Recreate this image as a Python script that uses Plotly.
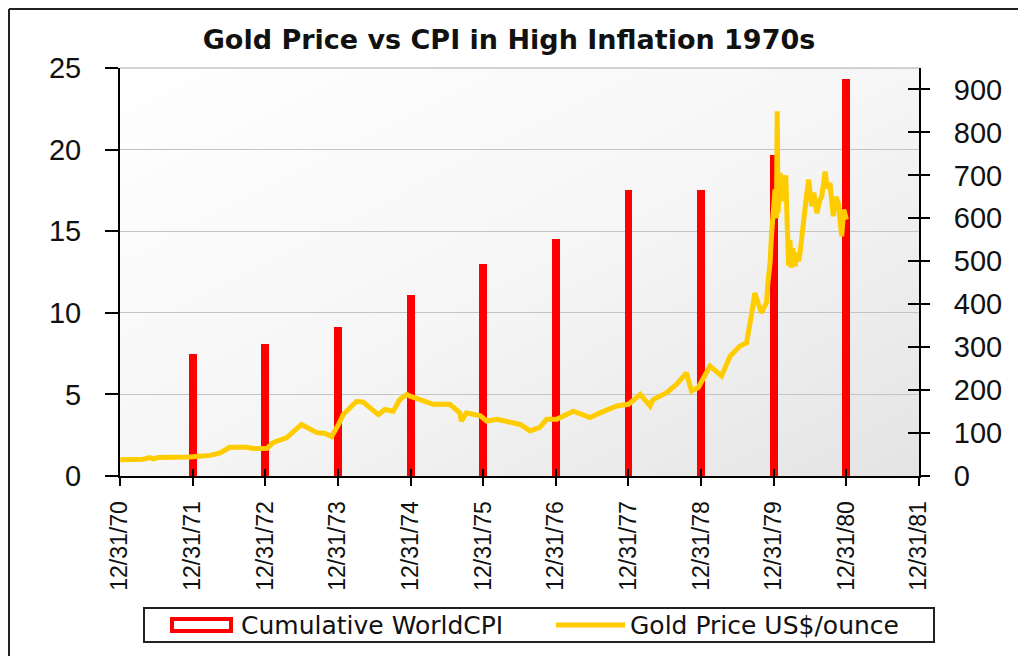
import base64
import plotly.graph_objects as go

# ---------------- data ----------------
cpi_dates = ["1971-12-31", "1972-12-31", "1973-12-31", "1974-12-31", "1975-12-31",
             "1976-12-31", "1977-12-31", "1978-12-31", "1979-12-31", "1980-12-31"]
cpi_values = [7.5, 8.1, 9.1, 11.1, 13.0, 14.5, 17.5, 17.5, 19.7, 24.3]

gold_dates = [
    "1971-01-01", "1971-04-27", "1971-05-30", "1971-06-15", "1971-07-10", "1971-12-17",
    "1972-03-28", "1972-05-18", "1972-07-05", "1972-09-27", "1972-10-31",
    "1973-01-07", "1973-02-09", "1973-04-16", "1973-07-01", "1973-08-13", "1973-09-16",
    "1973-10-27", "1973-11-29",
    "1974-01-03", "1974-01-26", "1974-04-04", "1974-05-07", "1974-07-22", "1974-08-24",
    "1974-10-05", "1974-11-07", "1974-12-12", "1974-12-28",
    "1975-02-17", "1975-04-23", "1975-07-16", "1975-09-05", "1975-09-13", "1975-10-08",
    "1975-12-17",
    "1976-01-18", "1976-03-10", "1976-05-30", "1976-07-05", "1976-08-23", "1976-10-11",
    "1976-11-14",
    "1977-01-04", "1977-03-29", "1977-06-20", "1977-08-10", "1977-11-02", "1977-12-31",
    "1978-02-28", "1978-04-19", "1978-05-04", "1978-07-11", "1978-08-29", "1978-10-18",
    "1978-11-13", "1978-12-17",
    "1979-01-11", "1979-02-14", "1979-04-13", "1979-05-26", "1979-07-13", "1979-08-17",
    "1979-09-12", "1979-09-27", "1979-10-30", "1979-11-25", "1979-12-02", "1979-12-13",
    "1979-12-20", "1979-12-27",
    "1980-01-07", "1980-01-14", "1980-01-18", "1980-01-22", "1980-01-28", "1980-02-02",
    "1980-02-10", "1980-02-18", "1980-03-01", "1980-03-06",
    "1980-03-10", "1980-03-15", "1980-03-22", "1980-03-28", "1980-04-05", "1980-04-17",
    "1980-04-25", "1980-05-05", "1980-05-12", "1980-05-20", "1980-05-30", "1980-06-10",
    "1980-06-24", "1980-07-09", "1980-07-20", "1980-08-04", "1980-08-18", "1980-08-29",
    "1980-09-15", "1980-09-25", "1980-10-09", "1980-10-26", "1980-11-08",
    "1980-11-20", "1980-12-07", "1980-12-18", "1980-12-31",
]
gold_values = [
    38, 39, 43, 40, 43, 44,
    48, 54, 67, 67, 64,
    64, 78, 89, 120, 109, 101,
    99, 92,
    120, 143, 174, 172, 143, 155,
    151, 178, 190, 186,
    178, 167, 167, 147, 128, 147,
    140,
    128, 132, 124, 120, 105, 113,
    132,
    132, 151, 136, 147, 163, 167,
    190, 163, 178, 194, 213, 240,
    198, 206,
    225, 256, 233, 279, 302, 310,
    380, 426, 380, 403, 450, 496,
    560, 610,
    667, 600, 849, 612, 690, 706,
    640, 667, 700, 620,
    560, 490, 550, 485, 530, 488,
    520, 500, 520, 560, 605, 640,
    690, 628, 660, 612, 640, 651,
    709, 670, 682, 605, 650,
    636, 558, 620, 597,
]

tick_dates = ["1970-12-31", "1971-12-31", "1972-12-31", "1973-12-31", "1974-12-31",
              "1975-12-31", "1976-12-31", "1977-12-31", "1978-12-31", "1979-12-31",
              "1980-12-31", "1981-12-31"]
tick_labels = ["12/31/70", "12/31/71", "12/31/72", "12/31/73", "12/31/74", "12/31/75",
               "12/31/76", "12/31/77", "12/31/78", "12/31/79", "12/31/80", "12/31/81"]

series_names = ["Cumulative WorldCPI", "Gold Price US$/ounce"]
title_text = "Gold Price vs CPI in High Inflation 1970s"

# ---------------- figure ----------------
RED = "#ff0000"
GOLD = "#ffcc00"
BAR_WIDTH_MS = 40 * 24 * 3600 * 1000
X_RANGE = ["1970-12-31", "1981-12-31"]

# page is offset by the 8px body margin; work in figure pixels
W, H = 1018, 648
L, R, T, B = 112, 911, 60, 468   # plot area in figure pixels

fig = go.Figure()
fig.add_trace(go.Bar(x=cpi_dates, y=cpi_values, name=series_names[0],
                     marker=dict(color=RED, line=dict(width=0)),
                     width=[BAR_WIDTH_MS] * len(cpi_dates), yaxis="y", showlegend=False))
fig.add_trace(go.Scatter(x=gold_dates, y=gold_values, name=series_names[1], mode="lines",
                         line=dict(color=GOLD, width=5), yaxis="y2", showlegend=False))
# empty helper trace so the overlay axes (inner tick halves) are drawn
fig.add_trace(go.Scatter(x=[], y=[], xaxis="x2", yaxis="y3", showlegend=False,
                         hoverinfo="skip"))

svg = ('<svg xmlns="http://www.w3.org/2000/svg" width="200" height="200" preserveAspectRatio="none">'
       '<defs><linearGradient id="g" x1="0" y1="0" x2="1" y2="1">'
       '<stop offset="0" stop-color="#ffffff"/><stop offset="0.5" stop-color="#f6f6f6"/>'
       '<stop offset="1" stop-color="#e4e4e4"/></linearGradient></defs>'
       '<rect width="200" height="200" fill="url(#g)"/></svg>')
bg_src = "data:image/svg+xml;base64," + base64.b64encode(svg.encode()).decode()

tickfont_y = dict(family="Liberation Sans, Arial, sans-serif", size=29, color="#111111")

fig.update_layout(
    width=W, height=H,
    margin=dict(l=L, r=W - R, t=T, b=H - B),
    paper_bgcolor="white",
    plot_bgcolor="rgba(0,0,0,0)",
    bargap=0,
    title=dict(text=title_text, x=501 / W, xanchor="center", xref="container",
               y=1 - 32 / H, yanchor="middle", yref="container",
               font=dict(family="DejaVu Sans", size=27, color="#111111", weight="bold")),
    xaxis=dict(type="date", range=X_RANGE,
               tickmode="array", tickvals=tick_dates, ticktext=tick_labels,
               tickangle=-90, ticks="outside", ticklen=8, tickcolor="black", tickwidth=2,
               showline=True, linecolor="black", linewidth=2, showgrid=False, zeroline=False,
               tickfont=dict(family="Liberation Sans, Arial, sans-serif", size=23, color="#111111"),
               ticklabelstandoff=6),
    xaxis2=dict(type="date", range=X_RANGE, overlaying="x", anchor="y", side="bottom",
                tickmode="array", tickvals=tick_dates, ticks="inside", ticklen=7,
                tickcolor="black", tickwidth=2, showticklabels=False, showline=False,
                showgrid=False, zeroline=False),
    yaxis=dict(range=[0, 25], dtick=5, tick0=0, ticks="outside", ticklen=13, tickcolor="black",
               tickwidth=2, showline=True, linecolor="black", linewidth=2,
               showgrid=True, gridcolor="#c4c4c4", gridwidth=1, zeroline=False,
               tickfont=tickfont_y, ticklabelstandoff=18),
    yaxis2=dict(range=[0, 950], dtick=100, tick0=0, overlaying="y", side="right",
                ticks="outside", ticklen=9, tickcolor="black", tickwidth=2,
                showline=True, linecolor="black", linewidth=2, showgrid=False, zeroline=False,
                tickfont=tickfont_y, ticklabelstandoff=18),
    yaxis3=dict(range=[0, 950], dtick=100, tick0=0, overlaying="y", side="right", anchor="x",
                ticks="inside", ticklen=11, tickcolor="black", tickwidth=2,
                showticklabels=False, showline=False, showgrid=False, zeroline=False),
    images=[dict(source=bg_src, xref="paper", yref="paper", x=0, y=1, sizex=1, sizey=1,
                 sizing="stretch", layer="below", xanchor="left", yanchor="top")],
    showlegend=False,
)

# figure px -> paper helpers for decoration (legend box, frame)
def px(xp):
    return (xp - L) / (R - L)

def py(yp):
    return (B - yp) / (B - T)

shapes = [
    # plot top border
    dict(type="line", xref="paper", yref="paper", x0=0, x1=1, y0=1, y1=1,
         line=dict(color="#a8a8a8", width=1)),
    # outer frame (top and left)
    dict(type="line", xref="paper", yref="paper", x0=px(1), x1=px(W), y0=py(1), y1=py(1),
         line=dict(color="#222222", width=2)),
    dict(type="line", xref="paper", yref="paper", x0=px(1), x1=px(1), y0=py(1), y1=py(H),
         line=dict(color="#222222", width=2)),
    # legend box
    dict(type="rect", xref="paper", yref="paper", x0=px(136), x1=px(926), y0=py(600), y1=py(634),
         line=dict(color="#222222", width=2), fillcolor="white"),
    # legend symbols
    dict(type="rect", xref="paper", yref="paper", x0=px(164), x1=px(223), y0=py(611), y1=py(623),
         line=dict(color=RED, width=4), fillcolor="white"),
    dict(type="line", xref="paper", yref="paper", x0=px(548), x1=px(617), y0=py(617), y1=py(617),
         line=dict(color=GOLD, width=5)),
]
fig.update_layout(shapes=shapes)

legend_font = dict(family="DejaVu Sans", size=25, color="#111111")
fig.add_annotation(text=series_names[0], xref="paper", yref="paper", x=px(231), y=py(617),
                   xanchor="left", yanchor="middle", showarrow=False, font=legend_font)
fig.add_annotation(text=series_names[1], xref="paper", yref="paper", x=px(620), y=py(617),
                   xanchor="left", yanchor="middle", showarrow=False, font=legend_font)

fig.write_html("out.html")
